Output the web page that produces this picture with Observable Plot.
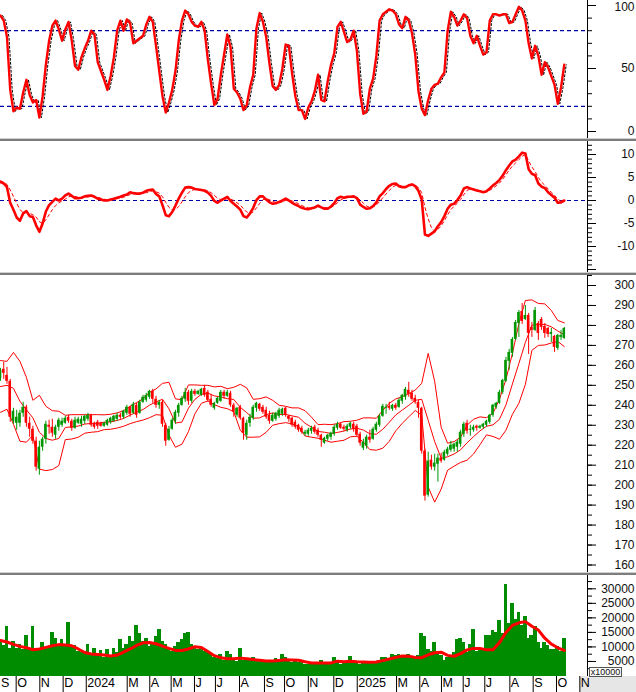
<!DOCTYPE html>
<html><head><meta charset="utf-8">
<script src="https://cdn.jsdelivr.net/npm/d3@7"></script>
<script src="https://cdn.jsdelivr.net/npm/@observablehq/plot@0.6"></script>
<style>
html,body{margin:0;padding:0;background:#fff;}
#chart{position:relative;width:636px;height:692px;overflow:hidden;background:#fff;font-family:"Liberation Sans",Arial,sans-serif;}
.sep{position:absolute;left:0;width:636px;height:1px;background:#cfcfcf;border-bottom:2px solid #7d7d7d;}
#strip{position:absolute;left:580px;top:676px;width:56px;height:16px;background:#e6e6e6;}
#unit{position:absolute;left:589px;top:667px;width:31px;height:8px;border:1px solid #555;background:#fafafa;font-size:9px;line-height:8px;text-align:center;color:#111;}
</style></head><body><div id="chart"><div id="strip"></div></div>
<script>
// ---- time layout: one unit = one trading day ----
const candleStep = 3;   // days between drawn candles / oscillator samples
const bandStep = 6;     // days between band / volume-average samples
const xDomain = [0, 543.5];

// ---- month axis ----
const monthLabels = ["S","O","N","D","2024","M","A","M","J","J","A","S","O","N","D","2025","M","A","M","J","J","A","S","O","N"];
const monthStarts = [-6,14.5,36.4,58,79.4,117.3,138.2,158,179.6,199,221.3,244.4,263,285,308.6,330.3,366.7,388.2,408.3,428.4,448.4,471.6,493.2,514.8,536.4];

// ---- price candles ----
const candleOpen = [253.5,258,255,252,232,231,231,236,239,231,
228,222,208,219,223,230,229,225,229,230,
231,234,232,228.5,231,230.5,232,233,235,231,
231.5,231,229.5,230,231.5,232,233,235,234,236,
239,236,240,236,241.5,242.5,244,247,243,240,
241.5,230,222.5,228,232,236,240,243,246.5,242,
247,245.5,245,248.5,246.5,243,238.5,241,242,246.5,
244.5,246,240,235,239,233.5,225,231,233.5,238.5,
240.5,239,237.5,235,232,233,234.5,235.5,238.5,234.5,
233.5,231.5,230,228.5,225.5,225.5,227,229,227.5,225,
221,223,224,225.5,228.5,230.5,229,227.5,229,230.5,
229.5,225.5,218.5,219.5,224,223,227.5,230,234.5,238.5,
239.5,238,240,239,242,244,247.5,246,243.5,241.5,
238.5,217,195,212.5,209,210.5,213.5,212.5,215.5,217.5,
218,219,220.5,225.5,231,227.5,227.5,229.5,228.5,229,
230,231.5,235,239,241,246.5,252,262,266,273,
281,287,283,285,279,277.5,281,283,279.5,278.5,
275.5,274.5,268.5,274,273.5];
const candleHigh = [258.5,261.5,259,253,238.5,237.5,237.5,241.5,240,234,
229.5,224,222,224,232,232.5,233,230,233.5,233.5,
234.5,235,233,234,234,234.5,235,236,235.5,231.5,
232.5,231.5,231.5,233,234,235,236,236,237.5,240,
239.5,241.5,241,242.5,245,246,247.5,248,244.5,242.5,
242.5,231,229.5,233.5,237.5,241,244.5,248.5,247.5,248,
248,247.5,248.5,250,247.5,245.5,241.5,244,247.5,247.5,
247.5,247,241,239,240,234,232.5,235.5,240,241.5,
241,240,239,237,236,236.5,238.5,238.5,239,235,
234,232.5,230.5,229.5,227.5,228.5,229.5,230,228.5,225.5,
224,225.5,226.5,230,231.5,231,230,230.5,231.5,231.5,
230.5,226.5,223,225,227.5,229,231.5,235.5,240.5,240.5,
241.5,240.5,241,243.5,245.5,249,251.5,247.5,245,242.5,
239,218,216.5,215,215.5,215.5,216,217.5,219,222,
221,222.5,227.5,231.5,232.5,230,230,230,230,231,
232.5,235.5,240.5,241.5,247.5,253,264,268,274,282.5,
287.5,291,290,286,281.5,289,282,284,281,279,
278.5,275,275.5,277.5,279];
const candleLow = [252,253,250.5,231.5,230.5,227.5,229,234,229,224,
220.5,207,205,217,220.5,225.5,224,223,227,229,
230.5,231,227,228,230.5,229,230.5,232,229,228,
228,229,229,229.5,230.5,231.5,232,233,233,235,
234,235.5,233.5,235.5,241,241.5,243,241,238.5,238,
229,219.5,222,227.5,230.5,234,239.5,241.5,240,241,
244.5,245,244.5,244,241.5,239,237.5,240.5,241.5,243,
244,239,234,234,232.5,222.5,222.5,229,232.5,236.5,
237,235.5,233,230.5,231.5,232,233.5,234.5,234,231.5,
229,228,226.5,225.5,224.5,224.5,225.5,225.5,224,219,
220.5,222,222.5,224.5,227.5,228,227,226.5,228,226.5,
224,219.5,217.3,218,221,222.5,226.5,229,234,235.5,
237.5,237,237.5,238.5,240.5,242.5,244,242,240.5,233.5,
215.5,192,194,207.5,207,201.5,211,212,214.5,216.5,
216.5,216.5,219,224,225.5,224.5,226.5,227,228,228,
229,230.5,234,238,240.5,245.5,251.5,257.5,264,272.5,
274,280.5,282.5,265.5,274,277,272.5,277.5,273.5,274,
271.5,266.5,267.5,272.5,273];
const candleClose = [257.5,256,252,234,237,234,236,239,231,228,
222,209,219,223,230.5,229,226,229,232.5,232,
233.5,232,228.5,232.5,233,233,234.5,235,230,229,
229.5,229.5,231,232.5,233.5,234.5,235,234,237,239,
235.5,240.5,235,241.5,244,245,247,243,240,241.5,
230.5,222,228,232.5,236.5,240,243.5,246.5,242,247,
245.5,247,248,245,242.5,240,241,243.5,246.5,244.5,
246.5,240,236.5,238.5,233.5,226,231,234,239,241,
238,236.5,234,232,235,236,237.5,238,235,233,
230,229,227.5,226.5,226.5,227.5,228.5,226.5,225,222.5,
223.5,225,226,229,230.5,228.5,228,229.5,231,228,
225,221,221.5,224,222.5,228,230.5,234.5,239.5,239,
238.5,240,238.5,242.5,245,248,245.5,243,241.5,238.5,
217,194.5,212,209,211,213.5,212,216.5,218,220,
220.5,221.5,226.5,230.5,227,228,229,228.5,229.5,230.5,
232,235,240,241,246.5,252.5,262.5,266.5,273,281.5,
286.5,282,285,276,277.5,287.5,276,279,276,275.5,
276.5,269,275,275,278.5];

// ---- Bollinger bands (every bandStep days) ----
const bbUpper = [262.4,262,266.5,262,254,242.5,245,239.5,237.3,237,
235,235.3,235.3,235.3,235.3,235.3,235.2,235.5,236.2,237.3,
239.5,241.3,243.3,246.5,248.2,251,251.5,243.2,242.8,250.2,
250.2,250,250,249.2,249.5,248.3,249,250.5,248.7,243,
243.3,244.2,242.5,240,239.5,238.7,238.7,237.3,234,230.3,
230.5,230.3,230.8,231.8,232,232.5,233.7,233.7,233.5,237.5,
241,243.2,244.3,245.8,247.6,251,266,252,229,221,
221.8,224,230,233,234.2,233.8,236,243,253,266,
281,292.5,292.8,291,290.8,287.5,282.5,281.3];
const bbMid = [249.4,250,248.5,242,237.7,233.7,226.5,223.4,222.5,223.4,
228.9,229.2,229.6,230.6,230.9,231,231.5,231.7,232.4,233.4,
235.1,236.5,237.9,240.1,241.7,243,238.2,231.1,231.6,238.5,
243,245.5,246.1,244.7,244.2,243.3,242.9,239,236.3,233.5,
233.7,235.3,236.2,235.4,235.4,234.7,234,231,229,226.9,
226.5,225.9,226.4,227.1,228.1,228.5,227.6,225.7,225.5,228,
231.5,235.2,237.6,240,242.5,243,232.5,221.8,213.5,214.2,
215.6,217.7,221.2,224.3,227.2,229.5,230.2,233,240.2,250.7,
261,271.5,280.1,280.5,280.5,279.3,277.2,275.3];
const bbLower = [236.5,238,230.5,222,221.5,225,208,207.3,207.8,209.8,
222.8,223.1,224,226,226.5,226.8,227.8,228,228.6,229.5,
230.8,231.8,232.6,233.8,235.3,235,225,219,220.5,226.8,
235.7,241,242.2,240.3,239,238.3,236.8,227.5,224,224,
224.2,226.5,230,230.8,231.3,230.7,229.3,224.6,224,223.5,
222.5,221.5,222,222.5,224.2,224.5,221.5,217.8,217.5,218.5,
222,227.2,231,234.2,237.4,235,199,191.5,198,207.5,
209.5,211.4,212.5,215.6,220.3,225.2,224.4,223,227.5,235.5,
241,250.5,267.5,270,270.2,271.2,272,269.4];

// ---- stochastic %K (every candleStep days) ----
const stochK = [92,88,75,33,16,19,18,31,41,29,
23,25,11,28,53,72,84,88,81,72,
81,87,72,52,49,59,66,72,80,77,
55,48,41,33,44,59,80,88,80,89,
86,70,72,74,76,85,91,87,68,48,
28,15,23,33,48,72,88,96,93,87,
84,83,87,80,57,38,21,26,45,61,
77,67,34,31,26,17,21,35,45,82,
94,87,75,54,36,33,37,50,69,68,
46,28,17,17,10,19,24,32,45,25,
24,40,53,62,83,87,79,71,73,80,
64,30,14,16,34,42,60,88,93,95,
97,96,93,85,82,91,88,78,61,32,
18,13,25,34,37,38,43,47,80,95,
91,84,88,93,90,76,70,76,68,61,
63,88,93,93,92,93,93,86,87,93,
99,96,88,70,58,68,60,45,55,51,
44,37,22,35,53];
const stochLevels = [20, 80];

// ---- MACD ----
const macdLine = [4.0,3.7,2.9,-0.5,-2.0,-3.7,-4.4,-2.8,-2.3,-3.4,
-3.6,-5.4,-6.8,-5.0,-2.4,-1.0,-0.3,0.4,0,0.4,
1.1,1.5,1.0,0.5,0.5,0.6,0.9,1.0,1.1,0.8,
0.4,0.2,0,0,0.2,0.4,0.6,0.8,1.1,1.3,
1.8,1.6,1.5,1.5,1.7,2.1,2.3,2.4,1.4,0.9,
-1.0,-3.2,-3.4,-2.5,-1.1,0.4,1.7,2.8,2.9,2.8,
2.5,2.4,2.3,2.1,1.7,1.0,-0.1,-0.5,0,0.4,
0.8,-0.1,-0.7,-1.3,-2.0,-3.4,-3.7,-2.8,-1.6,0.1,
0.9,0.9,0.2,-0.4,-0.7,-0.6,-0.3,0,0.4,0,
-0.5,-0.9,-1.2,-1.6,-1.8,-1.9,-1.7,-1.5,-1.1,-1.5,
-1.8,-1.8,-1.3,-0.6,0.5,0.8,0.6,0.8,0.8,0.9,
0.5,-0.9,-1.4,-1.8,-1.7,-1.2,-0.4,0.9,1.6,2.5,
3.2,3.6,3.7,3.1,2.9,2.9,3.3,3.5,3.1,2.1,
0.2,-7.4,-7.7,-7.2,-6.7,-5.6,-4.7,-3.4,-1.8,-0.9,
-0.7,0.1,1.1,2.6,2.9,2.6,2.4,2.2,2.0,1.8,
2.0,2.6,3.3,3.8,4.5,5.4,6.6,7.6,8.5,8.9,
9.6,10.4,10.2,6.8,5.8,5.5,3.7,3.0,2.7,1.8,
1.2,0.6,-0.5,-0.4,0];
const macdSignal = [4.3,4.0,3.5,2.3,0.9,-0.6,-2.0,-2.6,-2.6,-2.8,
-3.1,-3.6,-4.6,-5.0,-4.2,-3.1,-2.0,-1.1,-0.5,-0.1,
0.3,0.8,1.0,0.9,0.7,0.6,0.7,0.8,0.9,0.9,
0.7,0.5,0.3,0.1,0.1,0.2,0.4,0.5,0.7,1.0,
1.3,1.5,1.5,1.5,1.6,1.7,1.9,2.1,1.9,1.6,
0.8,-0.4,-1.5,-2.1,-2.0,-1.3,-0.3,0.8,1.7,2.2,
2.4,2.4,2.4,2.3,2.1,1.7,1.1,0.5,0.2,0.2,
0.4,0.3,0.0,-0.5,-1.0,-1.8,-2.5,-2.8,-2.5,-1.6,
-0.6,0.2,0.4,0.2,-0.2,-0.4,-0.5,-0.3,0.0,0.1,
-0.1,-0.4,-0.7,-1.1,-1.4,-1.6,-1.7,-1.6,-1.4,-1.4,
-1.5,-1.6,-1.5,-1.1,-0.5,0.1,0.5,0.6,0.7,0.8,
0.7,0.1,-0.6,-1.2,-1.5,-1.4,-1.0,-0.2,0.6,1.4,
2.2,2.9,3.3,3.3,3.1,3.0,3.1,3.3,3.3,2.8,
1.7,-1.5,-4.0,-5.9,-6.7,-6.3,-5.5,-4.4,-3.1,-2.0,
-1.2,-0.6,0.2,1.3,2.2,2.5,2.5,2.3,2.1,1.9,
1.9,2.2,2.7,3.2,3.8,4.6,5.6,6.6,7.5,8.2,
8.9,9.6,10.0,8.6,7.3,6.3,5.0,4.0,3.3,2.5,
1.8,1.1,0.3,-0.2,-0.1];

// ---- volume (x10000) ----
const volume = [11500,10500,17000,9500,12000,9500,11000,9000,13800,9500,
17000,9000,9500,11500,9500,10000,15000,13000,10500,12500,
11000,18500,10000,10500,8500,8000,8500,11000,7500,9500,
7500,8700,6500,9000,7000,9500,8000,12500,9500,11000,
13500,12000,17500,14500,12000,13000,10000,11500,13500,16000,
12000,11000,9500,8500,10000,11500,12500,14500,15000,11000,
9500,9000,9500,8500,8000,7500,6500,6000,7500,5500,
8500,7500,6000,5000,9500,5500,6000,5500,6500,5000,
5500,4800,5000,4800,5500,6000,5500,7500,6500,5500,
4500,5000,4500,5000,4000,4000,4500,4000,4500,5500,
4500,4500,4000,6500,4500,4000,4500,4500,6800,4800,
4500,4000,4500,4200,4500,4500,5000,5500,6500,6500,
6000,7500,7000,7500,7000,7000,7500,6500,6000,7000,
14500,13500,9000,8500,11500,7500,7000,5500,6500,7000,
8000,12500,13000,11500,8000,11000,16000,8500,9000,9500,
14000,14000,15500,15000,19000,14500,31500,18000,25000,19500,
22000,17500,20500,13000,14000,17000,11500,9500,11500,10500,
9000,9000,10000,8500,13000];
const volumeMA = [12200,11700,10900,10200,9750,9050,9300,9850,10400,10800,
10700,10400,9300,8100,7600,7400,7200,6900,7200,8200,
9300,10500,11400,11500,11100,10300,9500,8800,8800,9300,
10100,9800,8400,7000,6300,5950,5950,6150,5950,5650,
5400,5150,5150,5350,5550,5500,5400,4900,4500,4440,
4500,4500,5100,4900,5100,4900,4800,4700,4800,5300,
5850,6400,6900,6800,6400,6300,7300,8000,8200,7100,
6800,7700,9000,9500,9500,9000,9000,11500,15000,17400,
18300,18700,17100,15800,13000,11000,9700,8800];

// ---- tables built from the arrays ----
const candles = candleOpen.map((o, i) => ({t: i * candleStep, open: o, high: candleHigh[i], low: candleLow[i], close: candleClose[i]}));
const bands = bbUpper.map((u, i) => ({t: i * bandStep, upper: u, mid: bbMid[i], lower: bbLower[i]}));
const osc = stochK.map((k, i) => ({t: i * candleStep, k, macd: macdLine[i], signal: macdSignal[i]}));
const vols = volume.map((v, i) => ({t: i * candleStep, v}));
const volAvg = volumeMA.map((v, i) => ({t: i * bandStep, v}));
const months = monthLabels.map((label, i) => ({t: monthStarts[i], label}));

const RED = "#ff0000", UP = "#009600", VOLG = "#008c00", BLUE = "#0000a8";
const range = (a, b, s) => d3.range(a, b + s / 2, s);
const style = {background: "transparent", fontFamily: '"Liberation Sans", Arial, sans-serif', fontSize: "12px", color: "#000"};
const chart = document.getElementById("chart");

function rightAxis(minor, major, labels) {
  return [
    Plot.ruleX([xDomain[1]], {stroke: "#000"}),
    Plot.axisY(minor, {anchor: "right", tickSize: 4, tickFormat: () => "", label: null}),
    Plot.axisY(major, {anchor: "right", tickSize: 8, tickFormat: () => "", label: null}),
    Plot.text(labels, {y: d => d, text: d => String(d), frameAnchor: "right", dx: 47, textAnchor: "end", fill: "#111", fontSize: 12})
  ];
}
function mount(svg, top) {
  svg.style.position = "absolute"; svg.style.left = "0px"; svg.style.top = top + "px";
  chart.appendChild(svg);
}
function sep(top) {
  const d = document.createElement("div"); d.className = "sep"; d.style.top = top + "px"; chart.appendChild(d);
}
const common = {width: 636, marginLeft: 0, marginRight: 49, marginTop: 0, style};

// Stochastic
mount(Plot.plot({...common, height: 138, marginBottom: 0,
  x: {domain: xDomain, axis: null},
  y: {domain: [0, 100], range: [131, 5], axis: null},
  marks: [
    Plot.ruleY(stochLevels, {stroke: BLUE, strokeDasharray: "4,3", strokeWidth: 1.2}),
    Plot.line(osc, {x: "t", y: "k", stroke: "#000", strokeWidth: 1, strokeDasharray: "2,2", dx: 2}),
    Plot.line(osc, {x: "t", y: "k", stroke: RED, strokeWidth: 2.4, strokeLinejoin: "round"}),
    Plot.ruleX([xDomain[1]], {stroke: "#000"}),
    Plot.axisY(range(0, 100, 10), {anchor: "right", tickSize: 4, tickFormat: () => "", label: null}),
    Plot.axisY([0, 50, 100], {anchor: "right", tickSize: 8, tickFormat: () => "", label: null}),
    Plot.text([0, 50], {y: d => d, text: d => String(d), frameAnchor: "right", dx: 47, textAnchor: "end", fill: "#111", fontSize: 12}),
    Plot.text([100], {y: d => d, text: d => String(d), frameAnchor: "right", dx: 47, dy: 1.5, textAnchor: "end", fill: "#111", fontSize: 12})
  ]}), 0);
sep(138);

// MACD
mount(Plot.plot({...common, height: 131, marginBottom: 0,
  x: {domain: xDomain, axis: null},
  y: {domain: [-10, 10], range: [105, 13], axis: null},
  marks: [
    Plot.ruleY([0], {stroke: BLUE, strokeDasharray: "4,3", strokeWidth: 1.2}),
    Plot.line(osc, {x: "t", y: "signal", stroke: RED, strokeWidth: 1, strokeDasharray: "3,3"}),
    Plot.line(osc, {x: "t", y: "macd", stroke: RED, strokeWidth: 2.6, strokeLinejoin: "round"}),
    ...rightAxis(range(-15, 12, 1), [-15, -10, -5, 0, 5, 10], [-10, -5, 0, 5, 10])
  ]}), 141);
sep(272);

// Price with Bollinger bands
mount(Plot.plot({...common, height: 297, marginBottom: 0,
  x: {domain: xDomain, axis: null},
  y: {domain: [160, 300], range: [289.5, 10], axis: null},
  color: {type: "identity"},
  marks: [
    Plot.line(bands, {x: "t", y: "upper", stroke: RED, strokeWidth: 1}),
    Plot.line(bands, {x: "t", y: "mid", stroke: RED, strokeWidth: 1}),
    Plot.line(bands, {x: "t", y: "lower", stroke: RED, strokeWidth: 1}),
    Plot.ruleX(candles, {x: "t", y1: "low", y2: "high", stroke: d => d.close >= d.open ? UP : RED, strokeWidth: 1}),
    Plot.rect(candles, {x1: d => d.t - 1.2, x2: d => d.t + 1.2, y1: "open", y2: "close", fill: d => d.close >= d.open ? UP : RED}),
    ...rightAxis(range(155, 305, 5), range(160, 300, 10), range(160, 300, 10))
  ]}), 275);
sep(572);

// Volume + month axis
mount(Plot.plot({...common, height: 117, marginBottom: 16,
  x: {domain: xDomain, axis: null},
  y: {domain: [0, 30000], range: [100.5, 13.3], axis: null},
  marks: [
    Plot.rect(vols, {x1: d => d.t - 1.75, x2: d => d.t + 1.75, y1: 0, y2: "v", fill: VOLG, shapeRendering: "crispEdges"}),
    Plot.line(volAvg, {x: "t", y: "v", stroke: RED, strokeWidth: 3, strokeLinejoin: "round"}),
    ...rightAxis(range(2500, 32500, 2500), range(5000, 30000, 5000), range(5000, 30000, 5000)),
    Plot.axisX(monthStarts.filter(t => t >= 0), {anchor: "bottom", tickSize: 16, tickFormat: () => "", stroke: "#000", label: null}),
    Plot.text(months, {x: d => Math.max(d.t, -0.5), text: "label", frameAnchor: "bottom", dy: 10, dx: 1, textAnchor: "start", fill: "#000", fontSize: 12.5})
  ]}), 575);

const unit = document.createElement("div"); unit.id = "unit"; unit.textContent = "x10000"; chart.appendChild(unit);
</script></body></html>
